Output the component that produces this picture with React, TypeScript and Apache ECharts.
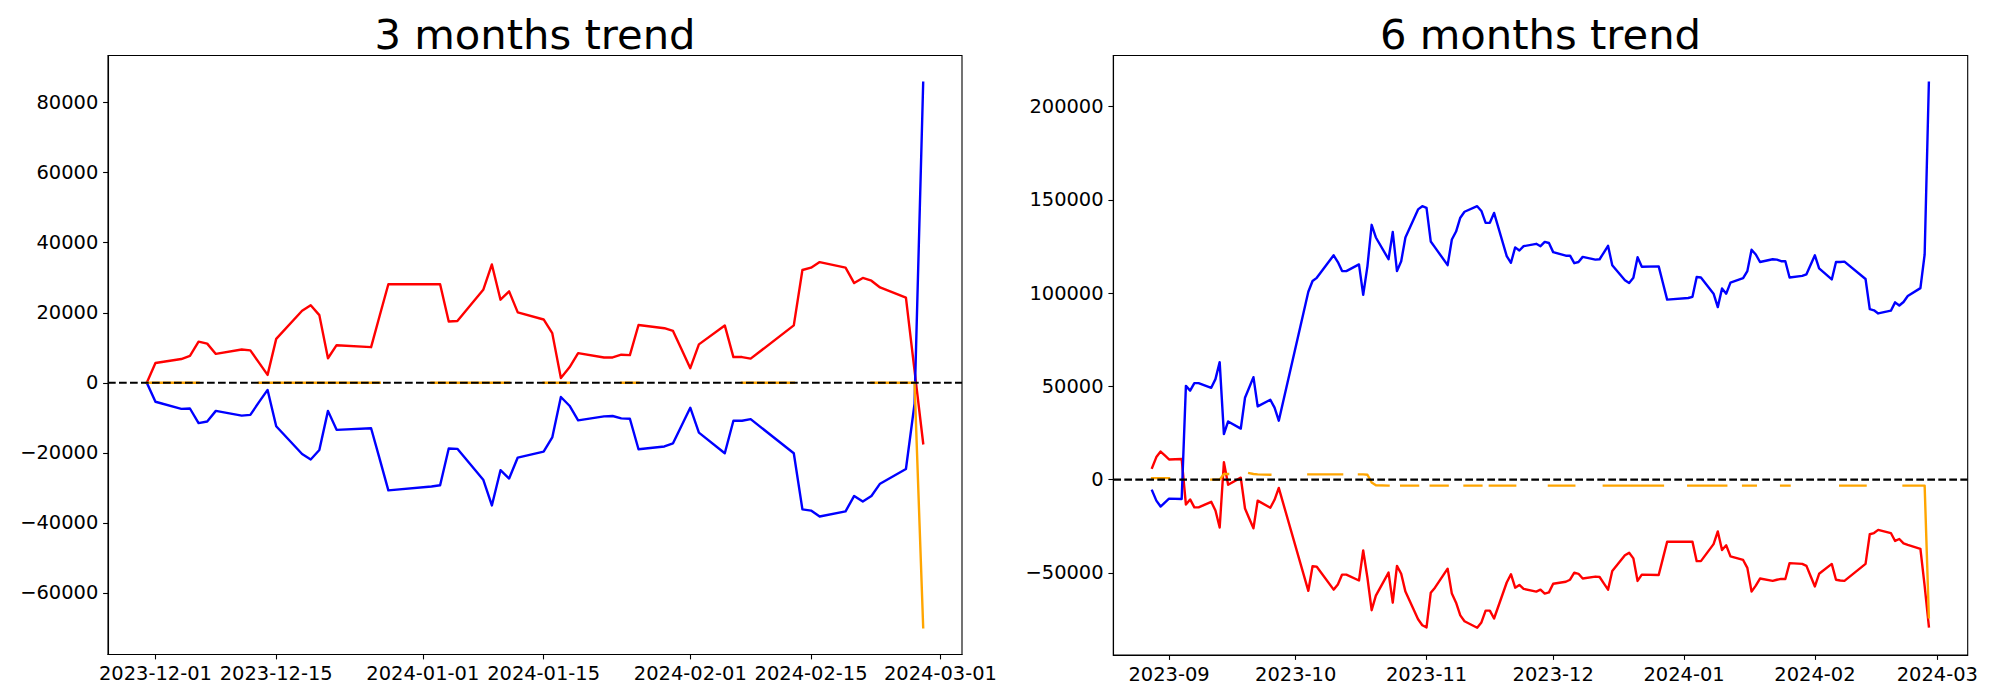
import React, { useEffect, useRef } from "react";
import * as echarts from "echarts";

// ---------- 3 months window ----------
const dates3m = [
  "2023-11-30",
  "2023-12-01","2023-12-04","2023-12-05","2023-12-06","2023-12-07","2023-12-08","2023-12-11","2023-12-12","2023-12-13","2023-12-14",
  "2023-12-15","2023-12-18","2023-12-19","2023-12-20","2023-12-21","2023-12-22","2023-12-26","2023-12-27","2023-12-28",
  "2024-01-02","2024-01-03","2024-01-04","2024-01-05","2024-01-08","2024-01-09","2024-01-10","2024-01-11","2024-01-12","2024-01-15",
  "2024-01-16","2024-01-17","2024-01-18","2024-01-19","2024-01-22","2024-01-23","2024-01-24","2024-01-25","2024-01-26","2024-01-29",
  "2024-01-30","2024-01-31",
  "2024-02-01","2024-02-02","2024-02-05","2024-02-06","2024-02-07","2024-02-08","2024-02-13","2024-02-14","2024-02-15","2024-02-16",
  "2024-02-19","2024-02-20","2024-02-21","2024-02-22","2024-02-23","2024-02-26","2024-02-27","2024-02-28",
];
const red3m = [
  0, 5650, 6780, 7684, 11752, 11187, 8249, 9492, 9266, 5763, 2260, 12543, 20566, 22148, 19323, 7006, 10735, 10170, 19210, 28137,
  28137, 28137, 17515, 17628, 26555, 33787, 23730, 26103, 20114, 18080, 14180, 1356, 4407, 8475, 7232, 7232, 8023, 7910, 16498, 15594, 14803, 9492,
  4181, 10961, 16385, 7345, 7345, 6893, 16385, 32205, 32883, 34465, 32883, 28476, 29945, 29154, 27233, 24295, 3503, -17289,
];
const blue3m = [
  0, -5424, -7458, -7345, -11526, -11074, -8023, -9379, -9153, -5537, -2034, -12430, -20340, -21922, -19210, -8023, -13447, -12995, -21809, -30736,
  -29606, -29267, -18758, -18871, -27685, -35030, -24973, -27346, -21357, -19662, -15594, -4068, -6554, -10735, -9605, -9492, -10170, -10283, -18984, -18193, -17289, -12204,
  -7119, -14238, -20114, -10848, -10848, -10396, -20114, -36160, -36499, -38194, -36725, -32318, -33900, -32318, -28815, -24634, -5989, 85700,
];
const orange3m = [
  0, 0, 0, 0, 0, null, null, null, null, 0, 0, 0, 0, 0, 0, 0, 0, 0, 0, null,
  0, 0, 0, 0, 0, 0, 0, 0, null, 0, 0, 0, 0, null, null, null, 0, 0, 0, null, null, null,
  null, null, null, null, 0, 0, 0, null, null, null, null, null, null, 0, 0, 0, 0, -69830,
];

// ---------- 6 months window ----------
const dates6m = [
  "2023-08-28","2023-08-29","2023-08-30","2023-08-31",
  "2023-09-01","2023-09-04","2023-09-05","2023-09-06","2023-09-07","2023-09-08","2023-09-11","2023-09-12","2023-09-13","2023-09-14",
  "2023-09-15","2023-09-18","2023-09-19","2023-09-20","2023-09-21","2023-09-22","2023-09-25","2023-09-26","2023-09-27",
  "2023-10-04","2023-10-05","2023-10-06","2023-10-10","2023-10-11","2023-10-12","2023-10-13","2023-10-16","2023-10-17","2023-10-18",
  "2023-10-19","2023-10-20","2023-10-23","2023-10-24","2023-10-25","2023-10-26","2023-10-27","2023-10-30","2023-10-31",
  "2023-11-01","2023-11-02","2023-11-03","2023-11-06","2023-11-07","2023-11-08","2023-11-09","2023-11-10","2023-11-13","2023-11-14",
  "2023-11-15","2023-11-16","2023-11-17","2023-11-20","2023-11-21","2023-11-22","2023-11-23","2023-11-24","2023-11-27","2023-11-28",
  "2023-11-29","2023-11-30",
  "2023-12-01","2023-12-04","2023-12-05","2023-12-06","2023-12-07","2023-12-08","2023-12-11","2023-12-12","2023-12-13","2023-12-14",
  "2023-12-15","2023-12-18","2023-12-19","2023-12-20","2023-12-21","2023-12-22","2023-12-26","2023-12-27","2023-12-28",
  "2024-01-02","2024-01-03","2024-01-04","2024-01-05","2024-01-08","2024-01-09","2024-01-10","2024-01-11","2024-01-12","2024-01-15",
  "2024-01-16","2024-01-17","2024-01-18","2024-01-19","2024-01-22","2024-01-23","2024-01-24","2024-01-25","2024-01-26","2024-01-29",
  "2024-01-30","2024-01-31",
  "2024-02-01","2024-02-02","2024-02-05","2024-02-06","2024-02-07","2024-02-08","2024-02-13","2024-02-14","2024-02-15","2024-02-16",
  "2024-02-19","2024-02-20","2024-02-21","2024-02-22","2024-02-23","2024-02-26","2024-02-27","2024-02-28",
];
const blue6m = [
  -5939, -11241, -14423, -12302,
  -10181, -10393, 50268, 47723, 51752, 51752, 49207, 53873, 62994, 24392, 31179, 27361, 43905, 49419, 54934, 39239, 42844, 38602, 31603,
  100748, 106474, 108171, 120261, 116655, 111777, 111777, 115382, 99051, 114322, 136592, 129805, 118140, 132775, 111777, 117079, 129805, 144864, 146561,
  145713, 127684, 124503, 114958, 128745, 132987, 140410, 143592, 146561, 144016, 137653, 137653, 142955, 119837, 116231, 124503, 122806, 125140, 126412, 125140, 127472, 126836,
  121958, 120049, 120049, 116019, 116655, 119412, 117928, 118140, 121745, 125351, 114958, 106898, 105414, 108171, 119200, 114110, 114322, 105414, 96506,
  97354, 97990, 108595, 108383, 99687, 92476, 102444, 99687, 105626, 107959, 111777, 123230, 120685, 116655, 118140, 117928, 117079, 117079, 108383, 109232, 110080, 115170,
  120261, 113261, 107323, 116655, 116655, 116867, 107535, 91415, 90779, 89082, 90567, 95021, 93324, 95233, 98414, 102656, 120685, 212750,
];
const red6m = [
  6363, 12090, 15059, 12938,
  10817, 11029, -13362, -10605, -14847, -14847, -11878, -16544, -25664, 9332, -2757, 1061, -15483, -20786, -26088, -11241, -15059, -10817, -4454,
  -59600, -46450, -46662, -58964, -56207, -50904, -50904, -54086, -37966, -52601, -69993, -62145, -49844, -65963, -46238, -50480, -60024, -74871, -78053,
  -79200, -60661, -57903, -47723, -61085, -65963, -72750, -75932, -79400, -76568, -70205, -70205, -74447, -55146, -50692, -57903, -56419, -58540, -60024, -58964, -61085, -60449,
  -55782, -54722, -53661, -49844, -50480, -53025, -51965, -52177, -55570, -58964, -48995, -40511, -39239, -42208, -54298, -50904, -51116, -42208, -33300,
  -33300, -33300, -43693, -43693, -34572, -27785, -37754, -35209, -41147, -43056, -47298, -60024, -56843, -53025, -54298, -53661, -53237, -53237, -44753, -45177, -46238, -51752,
  -57267, -50480, -45177, -53661, -54086, -54298, -45177, -29270, -28634, -26937, -28634, -32876, -31815, -34148, -34997, -37118, -57000, -78700,
];
const orange6m = [
  800, 800, 800, 800,
  800, null, null, null, null, null, 0, 0, 0, 3000, 3000, null, null, 3500, 3000, 2800, 2600, null, null,
  2800, 2800, 2800, 2800, 2800, 2800, null, 2800, 2800, 2600, -1500, -3000, -3200, null, null, -3200, -3200, -3200, null,
  null, -3200, -3200, -3200, null, null, null, -3200, -3200, -3200, null, -3200, -3200, -3200, -3200, -3200, null, null, null, null, null, -3200,
  -3200, -3200, -3200, -3200, null, null, null, null, -3200, -3200, -3200, -3200, -3200, -3200, -3200, -3200, -3200, -3200, null,
  -3200, -3200, -3200, -3200, -3200, -3200, -3200, -3200, null, -3200, -3200, -3200, -3200, null, null, null, -3200, -3200, -3200, null, null, null,
  null, null, null, null, -3200, -3200, -3200, null, null, null, null, null, null, -3200, -3200, -3200, -3200, -73800,
];

// ---------- ticks & titles ----------
const ticksX3m = ["2023-12-01", "2023-12-15", "2024-01-01", "2024-01-15", "2024-02-01", "2024-02-15", "2024-03-01"];
const ticksX6m = ["2023-09-01", "2023-10-01", "2023-11-01", "2023-12-01", "2024-01-01", "2024-02-01", "2024-03-01"];
const ticksY3m = [-60000, -40000, -20000, 0, 20000, 40000, 60000, 80000];
const ticksY6m = [-50000, 0, 50000, 100000, 150000, 200000];
const titles = ["3 months trend", "6 months trend"];

const FONT = "DejaVu Sans";
const LW = 2.4;
const toTs = (s: string) => Date.parse(s + "T00:00:00Z");
const p2 = (n: number) => (n < 10 ? "0" + n : "" + n);
const fmtDay = (v: number) => {
  const d = new Date(v);
  return `${d.getUTCFullYear()}-${p2(d.getUTCMonth() + 1)}-${p2(d.getUTCDate())}`;
};
const fmtMonth = (v: number) => {
  const d = new Date(v);
  return `${d.getUTCFullYear()}-${p2(d.getUTCMonth() + 1)}`;
};
const fmtNum = (v: number) => (v < 0 ? "\u2212" + Math.abs(v) : String(v));

const pairs = (dates: string[], vals: (number | null)[]) =>
  dates.map((d, i) => [toTs(d), vals[i] === null ? "-" : vals[i]]);

const padRange = (vals: number[]) => {
  const lo = Math.min(...vals);
  const hi = Math.max(...vals);
  const r = hi - lo;
  return [lo - 0.05 * r, hi + 0.05 * r];
};

function buildPanel(
  idx: number,
  dates: string[],
  red: number[],
  blue: number[],
  orange: (number | null)[],
  ticksX: string[],
  ticksY: number[],
  xFmt: (v: number) => string
) {
  const ts = dates.map(toTs);
  const [xMin, xMax] = padRange(ts);
  const allY = [...red, ...blue, ...(orange.filter((v) => v !== null) as number[])];
  const [yMin, yMax] = padRange(allY);
  const tickXs = ticksX.map(toTs);
  const axisLineStyle = { color: "#000", width: 1.1 };
  const labelStyle = { fontSize: 19.44, fontFamily: FONT, color: "#000" };
  const xAxis = {
    type: "value",
    gridIndex: idx,
    min: xMin,
    max: xMax,
    axisLine: { show: true, onZero: false, lineStyle: axisLineStyle },
    axisTick: { show: true, length: 4.9, lineStyle: axisLineStyle, customValues: tickXs },
    axisLabel: { ...labelStyle, margin: 9.7, customValues: tickXs, formatter: (v: number) => xFmt(v) },
    splitLine: { show: false },
  };
  const yAxis = {
    type: "value",
    gridIndex: idx,
    min: yMin,
    max: yMax,
    axisLine: { show: true, onZero: false, lineStyle: axisLineStyle },
    axisTick: { show: true, length: 4.9, lineStyle: axisLineStyle, customValues: ticksY },
    axisLabel: { ...labelStyle, margin: 9.7, customValues: ticksY, formatter: (v: number) => fmtNum(v) },
    splitLine: { show: false },
  };
  const common = {
    type: "line",
    xAxisIndex: idx,
    yAxisIndex: idx,
    symbol: "none",
    showSymbol: false,
    connectNulls: false,
    silent: true,
  };
  const series = [
    { ...common, name: "red" + idx, data: pairs(dates, red), lineStyle: { color: "#ff0000", width: LW, cap: "square", join: "round" }, z: 2 },
    { ...common, name: "blue" + idx, data: pairs(dates, blue), lineStyle: { color: "#0000ff", width: LW, cap: "square", join: "round" }, z: 3 },
    { ...common, name: "orange" + idx, data: pairs(dates, orange), lineStyle: { color: "#ffa500", width: LW, cap: "square", join: "round" }, z: 4 },
    {
      ...common,
      name: "zero" + idx,
      data: [[xMin, 0], [xMax, 0]],
      lineStyle: { color: "#000", width: 2.1, type: [7.7, 3.3] },
      z: 5,
    },
  ];
  return { xAxis, yAxis, series };
}

export default function App() {
  const ref = useRef<HTMLDivElement>(null);
  useEffect(() => {
    if (!ref.current) return;
    const chart = echarts.init(ref.current, null, { renderer: "svg" });
    const left = buildPanel(0, dates3m, red3m, blue3m, orange3m, ticksX3m, ticksY3m, fmtDay);
    const right = buildPanel(1, dates6m, red6m, blue6m, orange6m, ticksX6m, ticksY6m, fmtMonth);
    const grids = [
      { left: 108, top: 55.5, width: 854, height: 599 },
      { left: 1113.3, top: 55.5, width: 854.4, height: 599.5 },
    ];
    chart.setOption({
      animation: false,
      backgroundColor: "#ffffff",
      textStyle: { fontFamily: FONT },
      grid: grids.map((g) => ({ ...g, show: true, borderColor: "#000", borderWidth: 1.1, backgroundColor: "transparent" })),
      xAxis: [left.xAxis, right.xAxis],
      yAxis: [left.yAxis, right.yAxis],
      series: [...left.series, ...right.series],
      graphic: titles.map((t, i) => ({
        type: "text",
        x: grids[i].left + grids[i].width / 2,
        y: 34.8,
        silent: true,
        style: {
          text: t,
          fontSize: 41.7,
          fontFamily: FONT,
          fill: "#000",
          align: "center",
          verticalAlign: "middle",
        },
      })),
    });
    return () => chart.dispose();
  }, []);
  return (
    <div
      ref={ref}
      style={{ position: "absolute", left: 0, top: 0, width: 2000, height: 700, background: "#fff" }}
    />
  );
}
